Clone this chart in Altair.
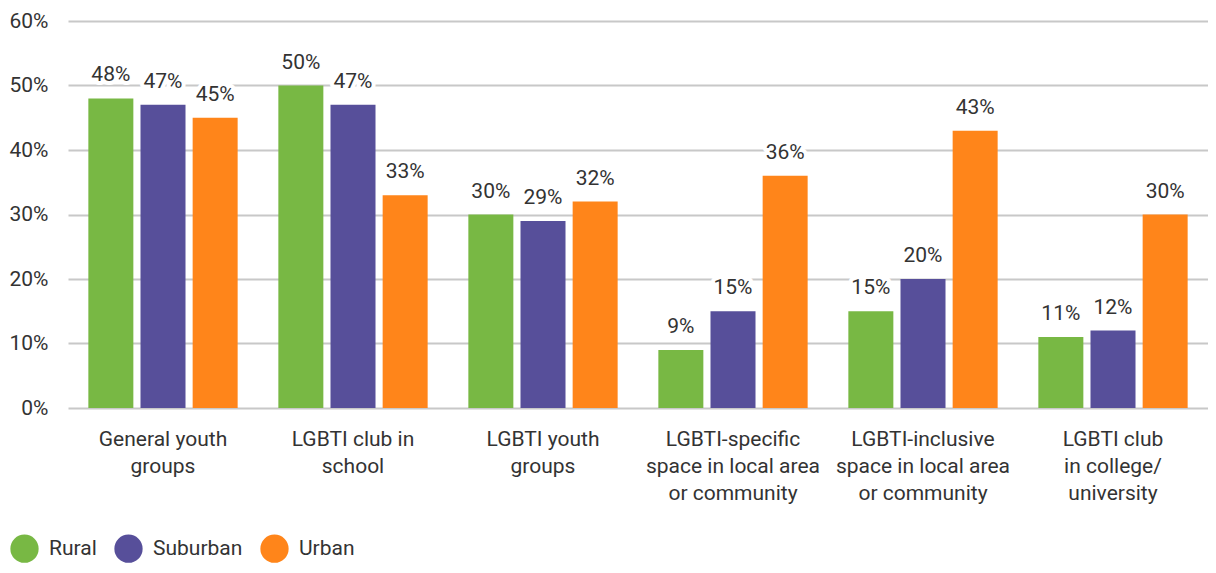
import altair as alt
import pandas as pd

categories = [
    "General youth|groups",
    "LGBTI club in|school",
    "LGBTI youth|groups",
    "LGBTI-specific|space in local area|or community",
    "LGBTI-inclusive|space in local area|or community",
    "LGBTI club|in college/|university",
]
series = ["Rural", "Suburban", "Urban"]
rural = [48, 50, 30, 9, 15, 11]
suburban = [47, 47, 29, 15, 20, 12]
urban = [45, 33, 32, 36, 43, 30]
colors = ["#78B844", "#574F9A", "#FF851A"]

rows = []
for i, c in enumerate(categories):
    for s, vals in zip(series, [rural, suburban, urban]):
        rows.append({"category": c, "series": s, "value": vals[i] / 100})
df = pd.DataFrame(rows)

FONT = "Roboto, sans-serif"
TXT = "#333333"

x = alt.X("category:N", sort=categories, title=None,
          scale=alt.Scale(paddingInner=0.215, paddingOuter=0.1075),
          axis=alt.Axis(labelAngle=0, domain=False, ticks=False,
                        labelExpr="split(datum.label, '|')",
                        labelFontSize=21, labelLineHeight=27, labelPadding=20,
                        labelColor=TXT, labelFont=FONT, labelBaseline="top"))
xo = alt.XOffset("series:N", sort=series, scale=alt.Scale(paddingInner=0.14, paddingOuter=0))
y = alt.Y("value:Q", title=None,
          scale=alt.Scale(domain=[0, 0.6], nice=False),
          axis=alt.Axis(values=[0, 0.1, 0.2, 0.3, 0.4, 0.5, 0.6], format=".0%",
                        domain=False, ticks=False, grid=True, gridColor="#c8c8c8",
                        gridWidth=2, labelFontSize=21, labelColor=TXT, labelFont=FONT,
                        labelPadding=20))
color = alt.Color("series:N", sort=series,
                  scale=alt.Scale(domain=series, range=colors),
                  legend=alt.Legend(title=None, orient="none", direction="horizontal",
                                    legendX=-58, legendY=513,
                                    symbolType="circle", symbolSize=800,
                                    symbolStrokeWidth=0, symbolOpacity=1,
                                    labelFontSize=21, labelFont=FONT, labelColor=TXT,
                                    labelOffset=10, columnPadding=17, labelLimit=200))

base = alt.Chart(df)
bars = base.mark_bar(size=45).encode(x=x, xOffset=xo, y=y, color=color)
halo = base.mark_text(baseline="bottom", dy=-13, fontSize=21, font=FONT,
                      stroke="white", strokeWidth=8, strokeJoin="round", fill="white").encode(
    x=x, xOffset=xo, y=y, text=alt.Text("value:Q", format=".0%"))
labels = base.mark_text(baseline="bottom", dy=-13, fontSize=21, font=FONT,
                        color=TXT).encode(
    x=x, xOffset=xo, y=y, text=alt.Text("value:Q", format=".0%"))

chart = (bars + halo + labels).properties(
    width=1140, height=387,
    autosize=alt.AutoSizeParams(type="none"),
    padding={"left": 60, "top": 13, "right": 0, "bottom": 157},
).configure(background="white").configure_view(stroke=None)

chart.save("out.html", embed_options={"renderer": "svg", "actions": False})
